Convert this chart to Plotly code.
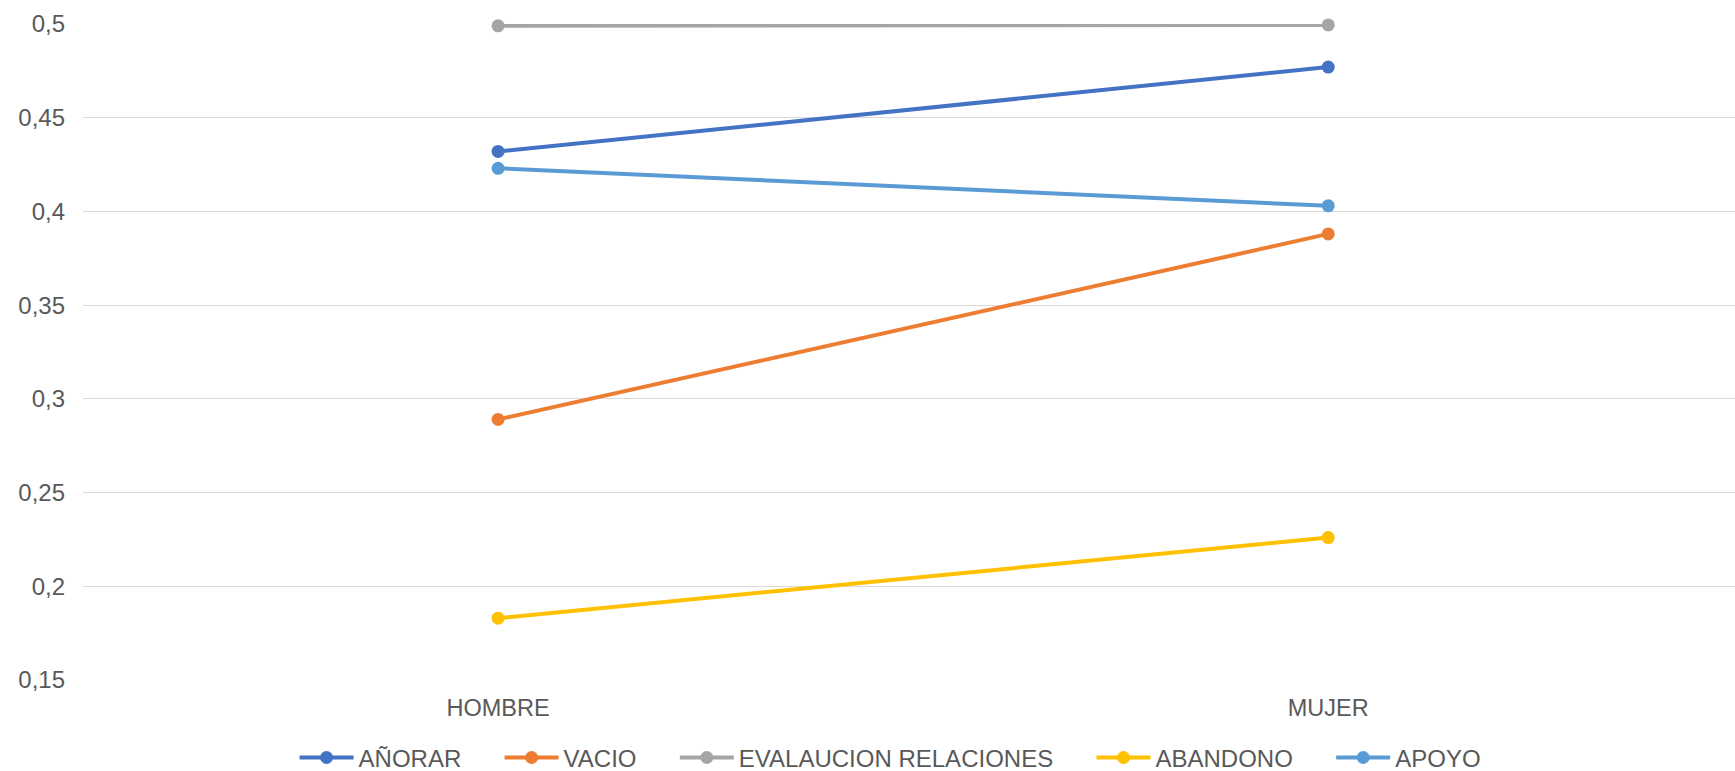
import plotly.graph_objects as go

categories = ["HOMBRE", "MUJER"]
series_names = ["AÑORAR", "VACIO", "EVALAUCION RELACIONES", "ABANDONO", "APOYO"]
anorar = [0.432, 0.477]
vacio = [0.289, 0.388]
evaluacion = [0.499, 0.4995]
abandono = [0.183, 0.226]
apoyo = [0.423, 0.403]
y_ticks = [0.15, 0.2, 0.25, 0.3, 0.35, 0.4, 0.45, 0.5]

colors = ["#4472C4", "#ED7D31", "#A5A5A5", "#FFC000", "#5B9BD5"]
values = [anorar, vacio, evaluacion, abandono, apoyo]

# extra space after every legend entry except the last one
PAD = "\u00a0" * 5

fig = go.Figure()
for i, (name, vals, col) in enumerate(zip(series_names, values, colors)):
    label = name + (PAD if i < len(series_names) - 1 else "")
    fig.add_trace(go.Scatter(
        x=categories, y=vals, name=label, mode="lines+markers",
        line=dict(color=col, width=4),
        marker=dict(color=col, size=13),
        cliponaxis=False,
    ))

fig.update_layout(
    width=1735, height=771,
    margin=dict(l=83, r=0, t=24, b=91, autoexpand=False),
    paper_bgcolor="white", plot_bgcolor="white",
    separators=",.",
    font=dict(family="Liberation Sans, Arial, sans-serif", size=22, color="#595959"),
    showlegend=True,
    legend=dict(orientation="h", xref="container", x=0.513, xanchor="center",
                yref="container", y=0.017, yanchor="middle",
                font=dict(size=24, color="#595959"), itemwidth=54,
                traceorder="normal"),
    xaxis=dict(showgrid=False, zeroline=False, showline=False,
               range=[-0.5, 1.49], ticks="", ticklabelstandoff=11,
               tickfont=dict(size=23.5)),
    yaxis=dict(range=[0.15, 0.5], tickvals=y_ticks, showgrid=True,
               gridcolor="#D9D9D9", gridwidth=1.3, zeroline=False,
               showline=False, ticks="", ticklabelstandoff=17,
               tickfont=dict(size=24)),
)

fig.write_html("out.html")
